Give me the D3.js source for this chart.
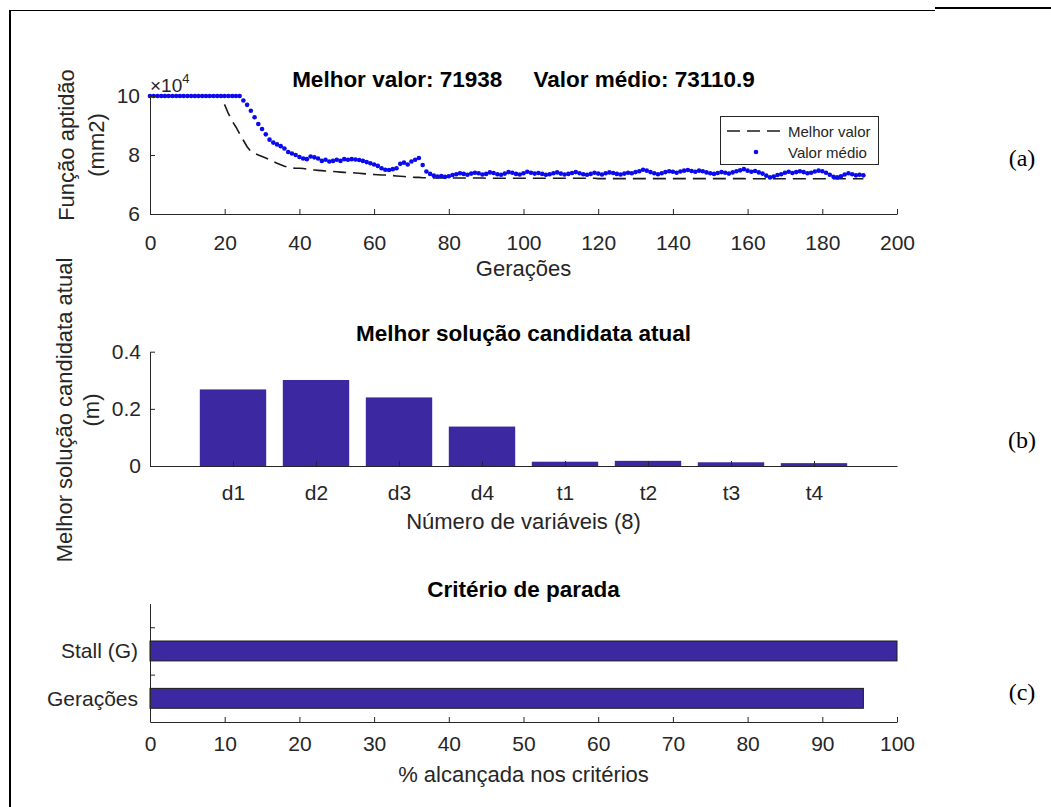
<!DOCTYPE html>
<html><head><meta charset="utf-8">
<script src="https://cdn.jsdelivr.net/npm/d3@7"></script>
<style>
body{margin:0;background:#fff;}
svg{display:block;font-family:"Liberation Sans",Arial,sans-serif;}
</style></head><body>
<svg id="c" width="1051" height="807"></svg>
<script>
// ---- Data (fitness values in units of 10^4 mm2) ----
const bestValues = [
10,10,10,10,10,10,10,10,10,10,10,10,10,10,10,10,10,10,10,10,
9.70,9.40,9.15,8.95,8.72,8.50,8.28,8.12,8.05,8.00,
7.95,7.90,7.84,7.78,7.72,7.67,7.62,7.58,7.56,7.55,
7.55,7.54,7.52,7.50,7.49,7.48,7.47,7.46,7.45,7.44,
7.43,7.42,7.41,7.40,7.40,7.39,7.38,7.37,7.36,7.35,
7.34,7.33,7.32,7.32,7.31,7.30,7.29,7.28,7.27,7.26,
7.25,7.24,7.24,7.23,7.23,7.22,
7.22,7.22,7.22,7.22,7.22,7.22,7.22,7.22,7.22,7.22,7.22,7.22,7.22,7.22,
7.21,7.21,7.21,7.21,7.21,7.21,7.21,7.21,7.21,7.21,7.21,7.21,7.21,7.21,7.21,
7.21,7.21,7.21,7.21,7.21,7.21,7.21,7.21,7.21,7.21,7.21,7.21,7.21,7.21,7.21,
7.20,7.20,7.20,7.20,7.20,7.20,7.20,7.20,7.20,7.20,7.20,7.20,7.20,7.20,7.20,7.20,7.20,7.20,7.20,7.20,
7.20,7.20,7.20,7.20,7.20,7.20,7.20,7.20,7.20,7.20,7.20,7.20,7.20,7.20,7.20,7.20,7.20,7.20,7.20,7.20,
7.1938,7.1938,7.1938,7.1938,7.1938,7.1938,7.1938,7.1938,7.1938,7.1938,7.1938,7.1938,7.1938,7.1938,7.1938,7.1938,
7.1938,7.1938,7.1938,7.1938,7.1938,7.1938,7.1938,7.1938,7.1938,7.1938,7.1938,7.1938,7.1938,7.1938,7.1938,7.1938
];
const meanValues = [
10,10,10,10,10,10,10,10,10,10,10,10,10,10,10,10,10,10,10,10,10,10,10,10,10,
9.85,9.70,9.50,9.28,9.05,8.88,8.70,8.52,8.42,8.36,
8.30,8.22,8.10,8.05,8.00,7.93,7.88,7.86,7.95,7.92,
7.88,7.80,7.84,7.78,7.80,7.84,7.80,7.86,7.84,7.86,
7.85,7.83,7.80,7.76,7.72,7.68,7.63,7.55,7.50,7.49,
7.52,7.55,7.70,7.74,7.68,7.78,7.84,7.90,7.66,7.44,
7.36,7.30,7.27,7.29,7.26,7.28,
7.32,7.35,7.38,7.36,7.33,7.37,7.40,7.38,7.34,7.36,
7.41,7.39,7.35,7.33,7.37,7.42,7.40,7.36,7.34,7.38,
7.43,7.40,7.37,7.39,7.36,7.33,7.35,7.38,7.41,7.37,
7.34,7.36,7.39,7.42,7.38,7.35,7.33,7.36,7.40,7.37,
7.34,7.38,7.41,7.39,7.36,7.34,7.37,7.40,7.38,7.42,
7.45,7.50,7.47,7.42,7.38,7.35,7.38,7.42,7.45,7.43,
7.40,7.44,7.47,7.49,7.46,7.43,7.47,7.45,7.41,7.38,
7.36,7.39,7.42,7.40,7.37,7.41,7.45,7.48,7.52,7.47,
7.43,7.46,7.41,7.37,7.30,7.24,7.27,7.32,7.35,7.40,
7.43,7.39,7.42,7.45,7.42,7.38,7.40,7.44,7.47,7.45,
7.40,7.33,7.26,7.24,7.28,7.34,7.38,7.35,7.31,7.33,7.31
];
const genTicks = [0,20,40,60,80,100,120,140,160,180,200];
const fitTicks = [6,8,10];
const fitTitle = "Melhor valor: 71938     Valor médio: 73110.9";

const barCategories = ["d1","d2","d3","d4","t1","t2","t3","t4"];
const barValues = [0.268,0.301,0.240,0.138,0.015,0.018,0.013,0.010];
const solTicks = [0,0.2,0.4];

const stopCategories = ["Gerações","Stall (G)"];
const stopValues = [95.5,100];
const pctTicks = [0,10,20,30,40,50,60,70,80,90,100];

// ---- Setup ----
const svg = d3.select("#c");
const FONT = "Liberation Sans, Arial, sans-serif";
const AX = "#262626";
const BAR = "#3c28a0";
const X0 = 150, X1 = 897;

function styleAxis(g){
  g.attr("font-family", FONT).attr("font-size", 21);
  g.selectAll("path.domain").attr("stroke", AX).attr("stroke-width", 1);
  g.selectAll(".tick line").attr("stroke", AX).attr("stroke-width", 1);
  g.selectAll(".tick text").attr("fill", AX);
  return g;
}
function title(txt, y){
  svg.append("text").attr("x",(X0+X1)/2).attr("y",y).attr("text-anchor","middle")
    .attr("font-family",FONT).attr("font-size",22.5).attr("font-weight","bold")
    .attr("fill","#000").style("white-space","pre").text(txt);
}
function label(txt, x, y, rot){
  const t = svg.append("text").attr("text-anchor","middle").attr("font-family",FONT)
    .attr("font-size",22).attr("fill",AX).text(txt);
  if(rot) t.attr("transform",`translate(${x},${y}) rotate(-90)`);
  else t.attr("x",x).attr("y",y);
}

// frame lines
svg.append("line").attr("x1",10).attr("x2",935).attr("y1",10.5).attr("y2",10.5).attr("stroke","#000").attr("stroke-width",1.2);
svg.append("line").attr("x1",935).attr("x2",1051).attr("y1",8).attr("y2",8).attr("stroke","#000").attr("stroke-width",2);
svg.append("line").attr("x1",10).attr("x2",10).attr("y1",10).attr("y2",807).attr("stroke","#000").attr("stroke-width",2);

// ---- Panel (a) ----
const xa = d3.scaleLinear().domain([0,200]).range([X0,X1]);
const ya = d3.scaleLinear().domain([6,10]).range([214,96]);

svg.append("path").datum(bestValues)
  .attr("d", d3.line().x((d,i)=>xa(i)).y(d=>ya(d)))
  .attr("fill","none").attr("stroke","#1a1a1a").attr("stroke-width",1.6)
  .attr("stroke-dasharray","13,7");
svg.append("g").selectAll("circle").data(meanValues).join("circle")
  .attr("cx",(d,i)=>xa(i)).attr("cy",d=>ya(d)).attr("r",2.3).attr("fill","#0a0af0");

styleAxis(svg.append("g").attr("transform","translate(0,214)")
  .call(d3.axisBottom(xa).tickValues(genTicks).tickSizeInner(-5).tickSizeOuter(0).tickPadding(21).tickFormat(d3.format("d"))));
styleAxis(svg.append("g").attr("transform",`translate(${X0},0)`)
  .call(d3.axisLeft(ya).tickValues(fitTicks).tickSizeInner(-5).tickSizeOuter(0).tickPadding(10).tickFormat(d3.format("d"))));

const ex = svg.append("text").attr("x",150).attr("y",92).attr("font-family",FONT).attr("font-size",19).attr("fill",AX);
ex.append("tspan").text("×10");
ex.append("tspan").attr("font-size",13).attr("dy",-9).text("4");

title(fitTitle, 87);
label("Gerações", (X0+X1)/2, 276);
label("Função aptidão", 74, 145, true);
label("(mm2)", 104, 145, true);

// legend
const lg = svg.append("g");
lg.append("rect").attr("x",720.5).attr("y",116.5).attr("width",158).attr("height",48)
  .attr("fill","#fff").attr("stroke",AX).attr("stroke-width",1);
lg.append("line").attr("x1",727).attr("x2",786).attr("y1",131).attr("y2",131)
  .attr("stroke","#1a1a1a").attr("stroke-width",1.6).attr("stroke-dasharray","13,7");
lg.append("circle").attr("cx",756).attr("cy",152).attr("r",2.3).attr("fill","#0a0af0");
lg.append("text").attr("x",788).attr("y",136.5).attr("font-family",FONT).attr("font-size",15).attr("fill",AX).text("Melhor valor");
lg.append("text").attr("x",788).attr("y",157.5).attr("font-family",FONT).attr("font-size",15).attr("fill",AX).text("Valor médio");

// ---- Panel (b) ----
const xb = d3.scaleLinear().domain([0,9]).range([X0,X1]);
const yb = d3.scaleLinear().domain([0,0.4]).range([466,351.7]);
svg.append("g").selectAll("rect").data(barValues).join("rect")
  .attr("x",(d,i)=>xb(i+1-0.4)).attr("width",xb(0.8)-xb(0))
  .attr("y",d=>yb(d)).attr("height",d=>yb(0)-yb(d)).attr("fill",BAR);
styleAxis(svg.append("g").attr("transform","translate(0,466)")
  .call(d3.axisBottom(xb).tickValues(d3.range(1,barCategories.length+1)).tickSizeInner(-5).tickSizeOuter(0).tickPadding(19)
  .tickFormat(d=>barCategories[d-1])));
styleAxis(svg.append("g").attr("transform",`translate(${X0},0)`)
  .call(d3.axisLeft(yb).tickValues(solTicks).tickSizeInner(-5).tickSizeOuter(0).tickPadding(9)
  .tickFormat(d=>d===0?"0":d.toFixed(1))));
title("Melhor solução candidata atual", 341);
label("Número de variáveis (8)", (X0+X1)/2, 529);
label("Melhor solução candidata atual", 72, 410, true);
label("(m)", 99, 410, true);

// ---- Panel (c) ----
const xc = d3.scaleLinear().domain([0,100]).range([X0,X1]);
const yc = d3.scaleLinear().domain([0.5,3]).range([722,603.6]);
svg.append("g").selectAll("rect").data(stopValues).join("rect")
  .attr("x",xc(0)).attr("width",d=>xc(d)-xc(0))
  .attr("y",(d,i)=>yc(i+1+0.21)).attr("height",yc(0)-yc(0.42))
  .attr("fill",BAR).attr("stroke","#1a1a1a").attr("stroke-width",1);
styleAxis(svg.append("g").attr("transform","translate(0,722)")
  .call(d3.axisBottom(xc).tickValues(pctTicks).tickSizeInner(-5).tickSizeOuter(0).tickPadding(14).tickFormat(d3.format("d"))));
styleAxis(svg.append("g").attr("transform",`translate(${X0},0)`)
  .call(d3.axisLeft(yc).tickValues([1.5,2.5]).tickSizeInner(-5).tickSizeOuter(0).tickFormat("")));
const yl = styleAxis(svg.append("g").attr("transform",`translate(${X0},0)`)
  .call(d3.axisLeft(yc).tickValues([1,2]).tickSize(0).tickPadding(12).tickFormat(d=>stopCategories[d-1])));
yl.select("path.domain").remove();
title("Critério de parada", 597);
label("% alcançada nos critérios", (X0+X1)/2, 782);

// panel letters
[["(a)",166],["(b)",448],["(c)",700]].forEach(([t,y])=>{
  svg.append("text").attr("x",1022).attr("y",y).attr("text-anchor","middle")
    .attr("font-family","Liberation Serif, Times New Roman, serif").attr("font-size",24).attr("fill","#000").text(t);
});
</script>
</body></html>
